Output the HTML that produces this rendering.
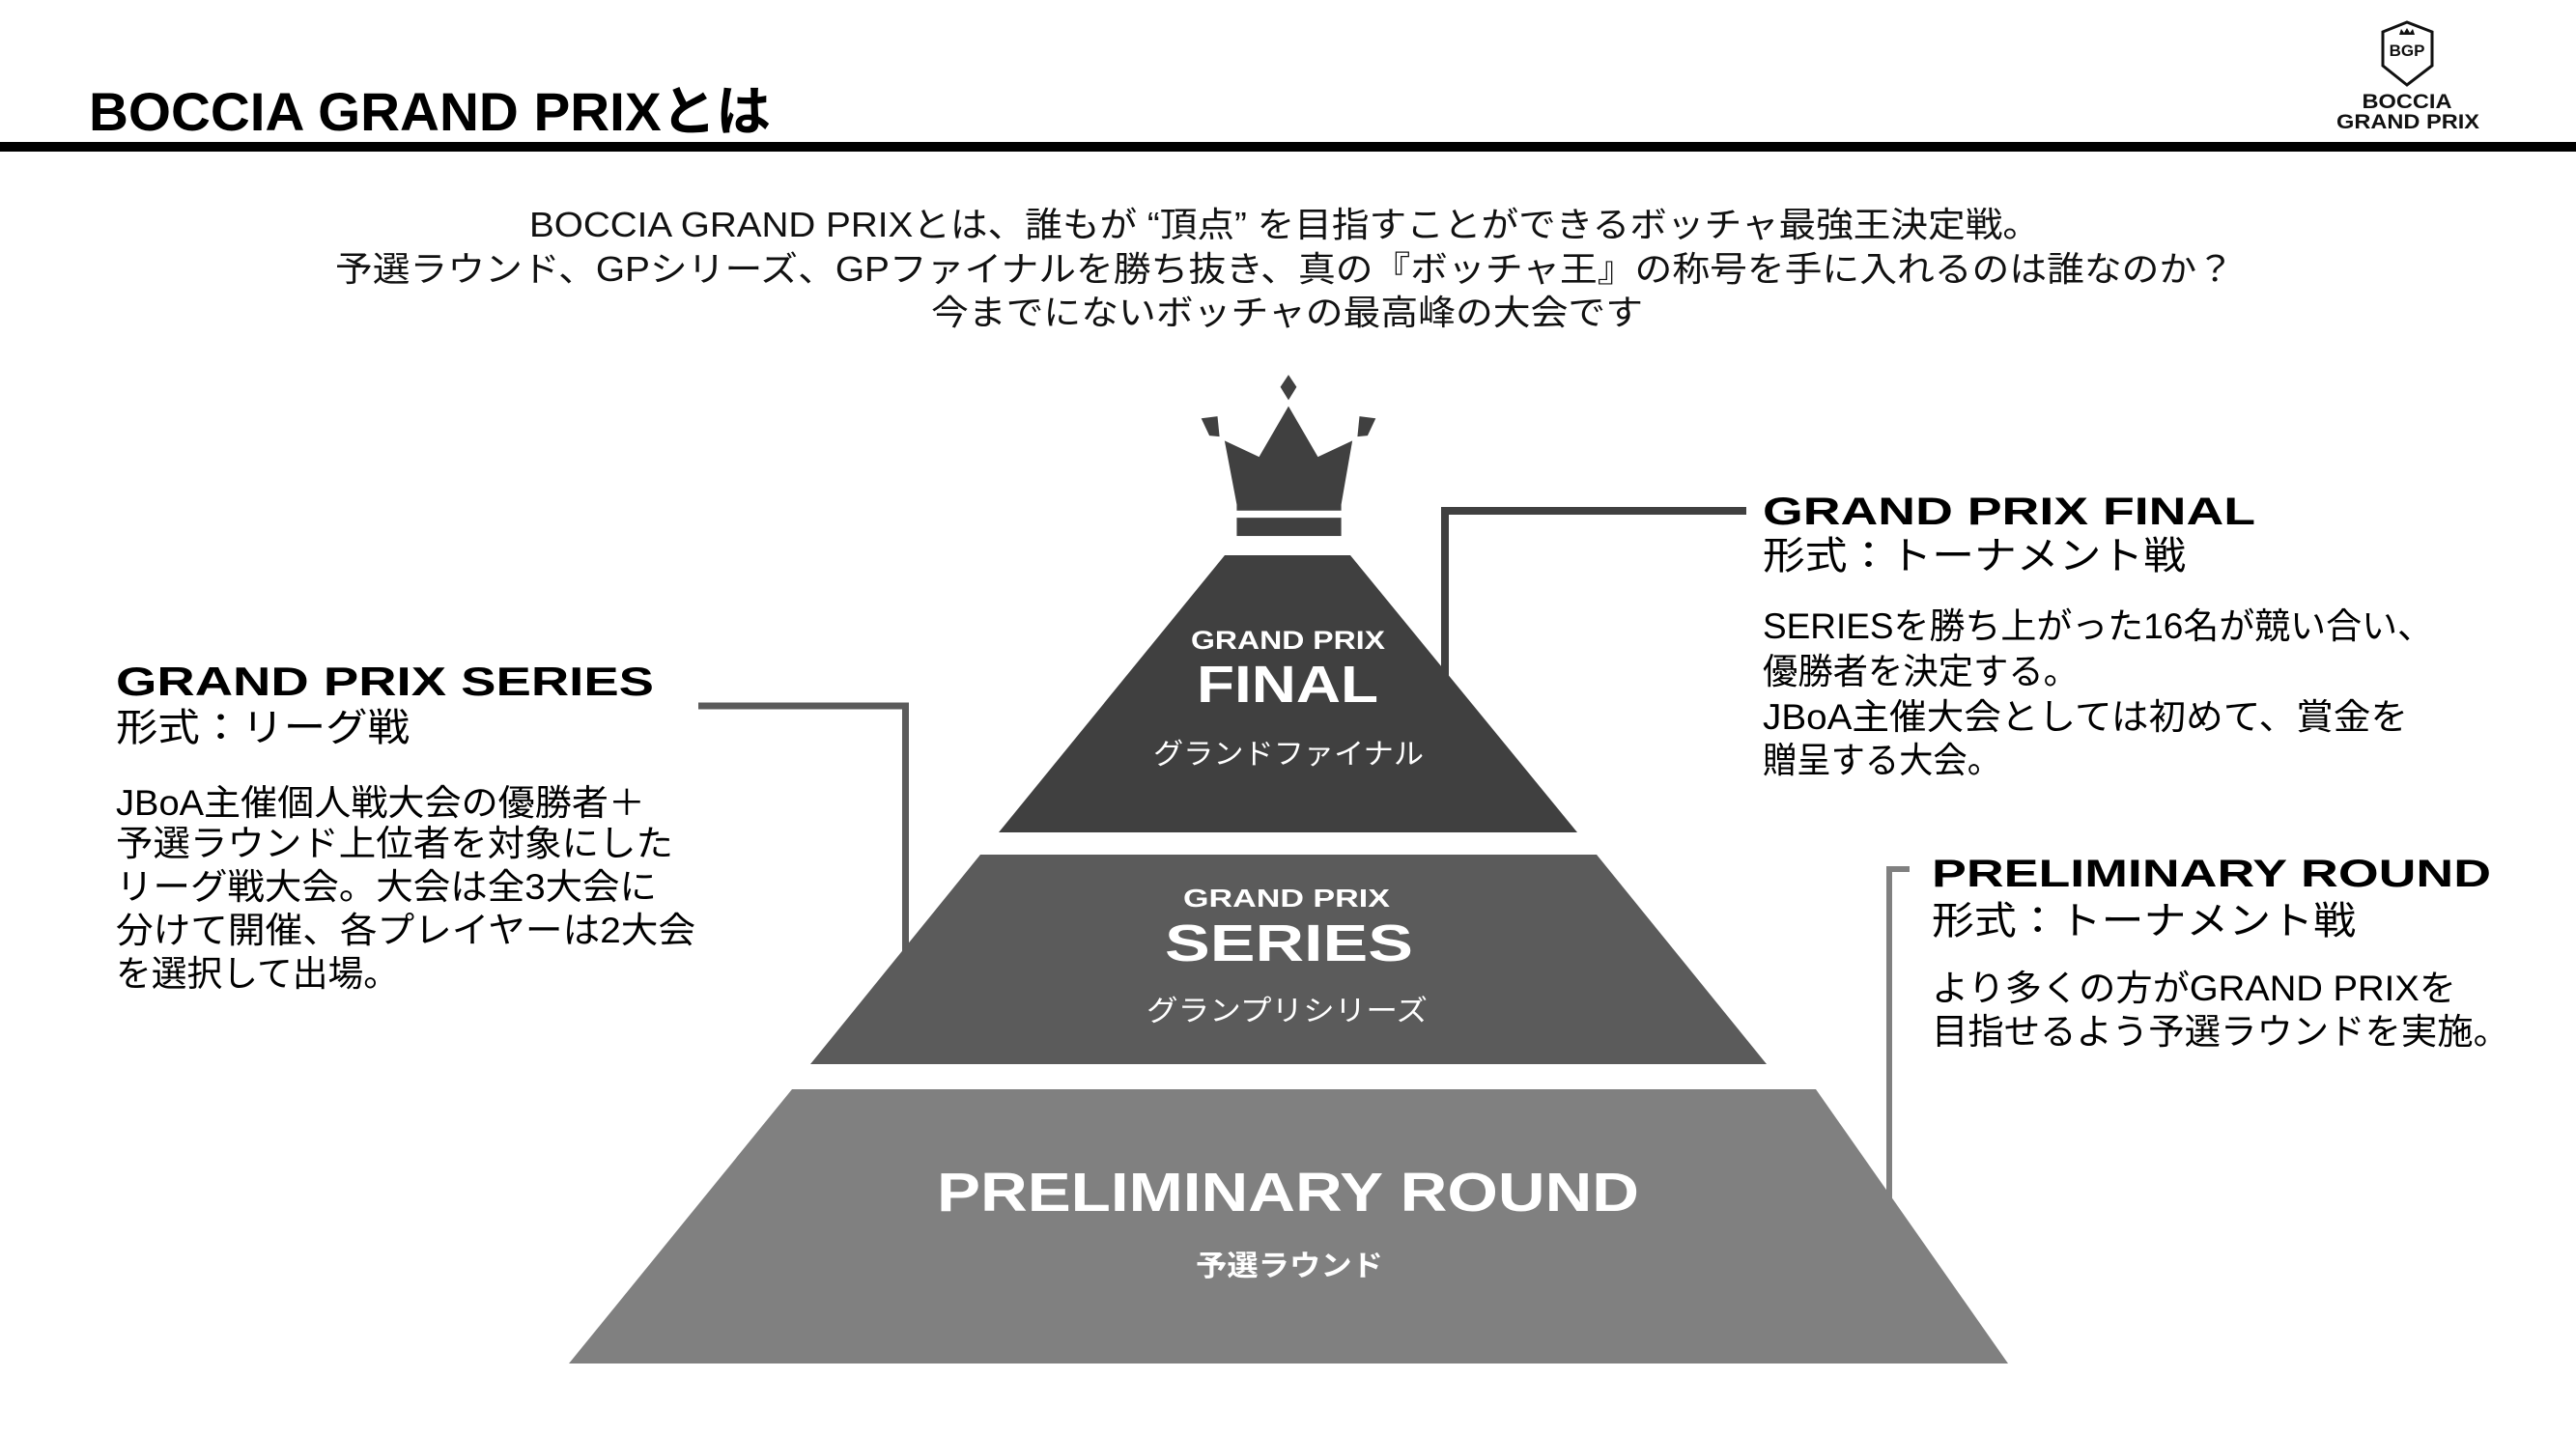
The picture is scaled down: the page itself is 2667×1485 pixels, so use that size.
<!DOCTYPE html>
<html><head><meta charset="utf-8"><style>
html,body{margin:0;padding:0;background:#fff;}
svg{display:block;}
text{font-family:"Liberation Sans","Noto Sans CJK JP",sans-serif;}
.jp{font-family:"Liberation Sans","Noto Sans CJK JP",sans-serif;font-weight:400;}
.hd{font-family:"Liberation Sans","Noto Sans CJK JP",sans-serif;font-weight:700;}
</style></head><body>
<svg width="2667" height="1485" viewBox="0 0 2667 1485" xmlns="http://www.w3.org/2000/svg">
<rect width="2667" height="1485" fill="#fff"/>
<!-- Header -->
<text x="92" y="135" font-size="56" class="hd" fill="#000" textLength="706" lengthAdjust="spacingAndGlyphs">BOCCIA GRAND PRIXとは</text>
<rect x="0" y="147" width="2667" height="10" fill="#000"/>
<!-- Logo -->
<path d="M2467 33 L2492 23 L2518 33 L2518 68 L2492 88 L2467 68 Z" fill="#fff" stroke="#111" stroke-width="3"/>
<path d="M2484 36 L2486 30 L2489 34 L2492 29 L2495 34 L2498 30 L2500 36 Z" fill="#111"/>
<text x="2492" y="58" font-size="17" font-weight="700" text-anchor="middle" fill="#111">BGP</text>
<text x="2492" y="112" font-size="21" font-weight="700" text-anchor="middle" fill="#111" textLength="93" lengthAdjust="spacingAndGlyphs">BOCCIA</text>
<text x="2493" y="133" font-size="21" font-weight="700" text-anchor="middle" fill="#111" textLength="148" lengthAdjust="spacingAndGlyphs">GRAND PRIX</text>
<!-- Intro -->
<g class="jp" font-size="36" fill="#111">
<text x="548" y="245" textLength="1564" lengthAdjust="spacingAndGlyphs">BOCCIA GRAND PRIXとは、誰もが “頂点” を目指すことができるボッチャ最強王決定戦。</text>
<text x="347" y="291" textLength="1966" lengthAdjust="spacingAndGlyphs">予選ラウンド、GPシリーズ、GPファイナルを勝ち抜き、真の『ボッチャ王』の称号を手に入れるのは誰なのか？</text>
<text x="964" y="336" textLength="737" lengthAdjust="spacingAndGlyphs">今までにないボッチャの最高峰の大会です</text>
</g>
<!-- Connectors -->
<path d="M723 731 L937.5 731 L937.5 990" fill="none" stroke="#5b5b5b" stroke-width="7"/>
<path d="M1496 700 L1496 529 L1808 529" fill="none" stroke="#404040" stroke-width="8"/>
<path d="M1977 900 L1956 900 L1956 1270" fill="none" stroke="#808080" stroke-width="6"/>
<g transform="translate(9,0)">
<!-- Crown -->
<g fill="#404040" transform="translate(1325,470) scale(1.05) translate(-1325,-470)">
<path d="M1325 392 L1333 404 L1325 417 L1317 404 Z"/>
<path d="M1239 435 L1255 433 L1257 453 L1247 452 Z"/>
<path d="M1411 435 L1395 433 L1393 453 L1403 452 Z"/>
<path d="M1262 457 L1296 473 L1325 423 L1354 473 L1388 457 L1377 520 L1377 526 L1274 526 L1274 520 Z"/>
<rect x="1274" y="533" width="103" height="18"/>
</g>
<polygon points="1259,575 1389,575 1624,862 1025,862" fill="#404040"/>
<g fill="#fff">
<text x="1224" y="672" font-size="27" class="hd" textLength="201" lengthAdjust="spacingAndGlyphs">GRAND PRIX</text>
<text x="1230" y="727" font-size="54" class="hd" textLength="188" lengthAdjust="spacingAndGlyphs">FINAL</text>
<text x="1185" y="791" font-size="30" class="jp" textLength="280" lengthAdjust="spacingAndGlyphs">グランドファイナル</text>
</g>
</g>
<!-- Pyramid -->
<polygon points="1015,885 1653,885 1829,1102 839,1102" fill="#5b5b5b"/>
<polygon points="820,1128 1880,1128 2079,1412 589,1412" fill="#808080"/>
<!-- Layer labels -->
<g fill="#fff">
<text x="1225" y="939" font-size="26" class="hd" textLength="214" lengthAdjust="spacingAndGlyphs">GRAND PRIX</text>
<text x="1206" y="995" font-size="54" class="hd" textLength="257" lengthAdjust="spacingAndGlyphs">SERIES</text>
<text x="1187" y="1057" font-size="30" class="jp" textLength="291" lengthAdjust="spacingAndGlyphs">グランプリシリーズ</text>
<text x="970" y="1254" font-size="57" class="hd" textLength="727" lengthAdjust="spacingAndGlyphs">PRELIMINARY ROUND</text>
<text x="1238" y="1321" font-size="30" class="hd" textLength="194" lengthAdjust="spacingAndGlyphs">予選ラウンド</text>
</g>
<!-- Series side text -->
<g fill="#000">
<text x="120" y="720" font-size="42" class="hd" textLength="557" lengthAdjust="spacingAndGlyphs">GRAND PRIX SERIES</text>
<text x="120" y="767" font-size="40" class="jp" textLength="304" lengthAdjust="spacingAndGlyphs">形式：リーグ戦</text>
<g class="jp" font-size="37">
<text x="120" y="844" textLength="548" lengthAdjust="spacingAndGlyphs">JBoA主催個人戦大会の優勝者＋</text>
<text x="120" y="886" textLength="577" lengthAdjust="spacingAndGlyphs">予選ラウンド上位者を対象にした</text>
<text x="120" y="931" textLength="560" lengthAdjust="spacingAndGlyphs">リーグ戦大会。大会は全3大会に</text>
<text x="120" y="976" textLength="600" lengthAdjust="spacingAndGlyphs">分けて開催、各プレイヤーは2大会</text>
<text x="120" y="1021" textLength="293" lengthAdjust="spacingAndGlyphs">を選択して出場。</text>
</g>
</g>
<!-- Final side text -->
<g fill="#000">
<text x="1825" y="543" font-size="40" class="hd" textLength="510" lengthAdjust="spacingAndGlyphs">GRAND PRIX FINAL</text>
<text x="1825" y="589" font-size="40" class="jp" textLength="438" lengthAdjust="spacingAndGlyphs">形式：トーナメント戦</text>
<g class="jp" font-size="37">
<text x="1825" y="661" textLength="694" lengthAdjust="spacingAndGlyphs">SERIESを勝ち上がった16名が競い合い、</text>
<text x="1825" y="708" textLength="327" lengthAdjust="spacingAndGlyphs">優勝者を決定する。</text>
<text x="1825" y="755" textLength="668" lengthAdjust="spacingAndGlyphs">JBoA主催大会としては初めて、賞金を</text>
<text x="1825" y="800" textLength="247" lengthAdjust="spacingAndGlyphs">贈呈する大会。</text>
</g>
</g>
<!-- Preliminary side text -->
<g fill="#000">
<text x="2000" y="918" font-size="40" class="hd" textLength="579" lengthAdjust="spacingAndGlyphs">PRELIMINARY ROUND</text>
<text x="2000" y="967" font-size="40" class="jp" textLength="439" lengthAdjust="spacingAndGlyphs">形式：トーナメント戦</text>
<g class="jp" font-size="37">
<text x="2000" y="1036" textLength="543" lengthAdjust="spacingAndGlyphs">より多くの方がGRAND PRIXを</text>
<text x="2000" y="1081" textLength="598" lengthAdjust="spacingAndGlyphs">目指せるよう予選ラウンドを実施。</text>
</g>
</g>
</svg>
</body></html>
